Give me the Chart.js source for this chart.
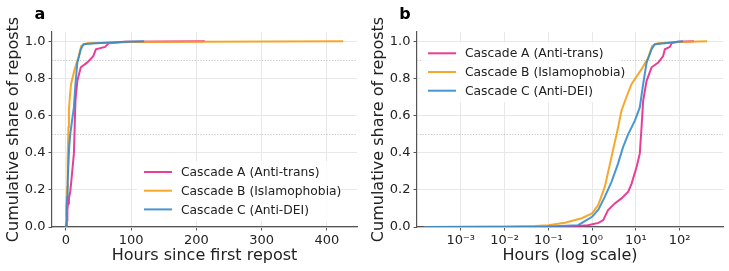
<!DOCTYPE html>
<html>
<head>
<meta charset="utf-8">
<script src="https://cdn.jsdelivr.net/npm/chart.js@4"></script>
<style>
  html, body { margin: 0; padding: 0; background: #fff; }
  #wrap { position: relative; width: 729px; height: 271px; }
  .panel { position: absolute; top: 0; width: 364px; height: 271px; }
  #panelA { left: 0; }
  #panelB { left: 365px; }
</style>
</head>
<body>
<div id="wrap">
  <div class="panel" id="panelA"><canvas id="chartLinear" width="364" height="271"></canvas></div>
  <div class="panel" id="panelB"><canvas id="chartLog" width="364" height="271"></canvas></div>
</div>
<script>
// ===============================
// DATA
// ===============================
const cascadeLabels = ["Cascade A (Anti-trans)", "Cascade B (Islamophobia)", "Cascade C (Anti-DEI)"];
const cascadeColors = ["rgba(231,41,138,0.9)", "rgba(245,158,22,0.9)", "rgba(52,139,205,0.9)"];

// Cascade A
const hoursA = [0.00015, 0.3, 0.8, 1.4, 1.8, 2.3, 3.3, 4.7, 6.7, 8, 10.4, 12.3, 13.5, 14.7, 17.6, 22.9, 32.5, 42, 46, 60, 66, 90, 213];
const shareA = [0, 0.002, 0.01, 0.022, 0.037, 0.09, 0.127, 0.154, 0.19, 0.234, 0.323, 0.395, 0.537, 0.68, 0.787, 0.86, 0.885, 0.92, 0.957, 0.97, 0.99, 0.998, 1.0];

// Cascade B
const hoursB = [0.00015, 0.01, 0.05, 0.1, 0.24, 0.58, 1.0, 1.38, 1.95, 2.78, 3.94, 4.7, 6.1, 8, 13.5, 19, 23.6, 32, 100, 425];
const shareB = [0, 0.002, 0.005, 0.01, 0.023, 0.047, 0.073, 0.118, 0.216, 0.377, 0.537, 0.627, 0.70, 0.77, 0.85, 0.91, 0.975, 0.99, 0.996, 1.0];

// Cascade C
const hoursC = [0.00015, 0.1, 0.48, 1.0, 1.4, 1.95, 2.78, 3.9, 5.1, 6.7, 9.5, 12.3, 14.7, 17.6, 22.9, 27, 46, 93, 120];
const shareC = [0, 0.003, 0.01, 0.055, 0.095, 0.162, 0.243, 0.34, 0.43, 0.50, 0.573, 0.644, 0.77, 0.885, 0.957, 0.984, 0.99, 0.998, 1.0];

const yTicks = [0, 0.2, 0.4, 0.6, 0.8, 1.0];
const xTicksLinear = [0, 100, 200, 300, 400];
const xTicksLog = [1e-3, 1e-2, 1e-1, 1, 10, 100];
const xTickLabelsLog = ["10\u207B\u00B3", "10\u207B\u00B2", "10\u207B\u00B9", "10\u2070", "10\u00B9", "10\u00B2"];
const refLines = [0.5, 0.9];

// ===============================
// HELPERS
// ===============================
const FONT = "'DejaVu Sans', sans-serif";
const GRID = "#e8e8e8";
const AXIS = "#555555";

function toPoints(xs, ys) {
  return xs.map((x, i) => ({ x: x, y: ys[i] }));
}

function makeDatasets() {
  const all = [[hoursA, shareA], [hoursB, shareB], [hoursC, shareC]];
  return all.map((d, i) => ({
    label: cascadeLabels[i],
    data: toPoints(d[0], d[1]),
    borderColor: cascadeColors[i],
    backgroundColor: cascadeColors[i],
    borderWidth: 2,
    pointRadius: 0,
    tension: 0,
    fill: false,
    order: 3 - i
  }));
}

// dotted reference lines, legend box, panel letter
const decorPlugin = {
  id: "decor",
  beforeDatasetsDraw(chart) {
    const { ctx, chartArea, scales } = chart;
    ctx.save();
    ctx.strokeStyle = "#b5b5b5";
    ctx.lineWidth = 0.8;
    ctx.setLineDash([1.2, 1.6]);
    refLines.forEach(v => {
      const y = Math.round(scales.y.getPixelForValue(v)) + 0.5;
      ctx.beginPath();
      ctx.moveTo(chartArea.left, y);
      ctx.lineTo(chartArea.right, y);
      ctx.stroke();
    });
    ctx.restore();
  },
  afterDatasetsDraw(chart, args, opts) {
    const { ctx } = chart;
    const lg = opts.legend;
    ctx.save();
    ctx.fillStyle = "rgba(255,255,255,0.85)";
    ctx.fillRect(lg.x - 7, lg.y - 11, lg.w, lg.rowH * 3 + 4);
    chart.data.datasets.forEach((ds, i) => {
      const y = lg.y + i * lg.rowH;
      ctx.strokeStyle = ds.borderColor;
      ctx.lineWidth = 2;
      ctx.beginPath();
      ctx.moveTo(lg.x, y);
      ctx.lineTo(lg.x + 28, y);
      ctx.stroke();
      ctx.fillStyle = "#222";
      ctx.font = "12.3px " + FONT;
      ctx.textBaseline = "middle";
      ctx.textAlign = "left";
      ctx.fillText(ds.label, lg.x + 37, y + 1);
    });
    ctx.font = "bold 16px " + FONT;
    ctx.fillStyle = "#000";
    ctx.textAlign = "center";
    ctx.textBaseline = "middle";
    ctx.fillText(opts.letter, 40, 15);
    ctx.restore();
  }
};

function yScale() {
  return {
    type: "linear",
    min: 0,
    max: 1.05,
    afterBuildTicks: s => { s.ticks = yTicks.map(v => ({ value: v })); },
    afterFit: s => { s.width = 52; },
    grid: { color: GRID, lineWidth: 1, tickColor: AXIS, tickLength: 3.5 },
    border: { color: AXIS, width: 1.2 },
    ticks: { color: "#222", font: { family: FONT, size: 13 }, padding: 3, callback: v => Number(v).toFixed(1) },
    title: { display: true, text: "Cumulative share of reposts", color: "#222", font: { family: FONT, size: 16 }, padding: { top: 4 } }
  };
}

function baseOptions(xScale, letter, legend, rightPad) {
  return {
    responsive: false,
    animation: false,
    layout: { padding: { left: 0, right: rightPad, top: 32, bottom: 0 } },
    plugins: {
      legend: { display: false },
      tooltip: { enabled: false },
      decor: { letter: letter, legend: legend }
    },
    scales: { x: xScale, y: yScale() }
  };
}

// ===============================
// PANEL a : LINEAR
// ===============================
new Chart(document.getElementById("chartLinear"), {
  type: "line",
  data: { datasets: makeDatasets() },
  options: baseOptions({
    type: "linear",
    min: -21.25,
    max: 446.25,
    afterBuildTicks: s => { s.ticks = xTicksLinear.map(v => ({ value: v })); },
    afterFit: s => { s.height = 44; },
    grid: { color: GRID, lineWidth: 1, tickColor: AXIS, tickLength: 3.5 },
    border: { color: AXIS, width: 1.2 },
    ticks: { color: "#222", font: { family: FONT, size: 13 }, padding: 2, maxRotation: 0 },
    title: { display: true, text: "Hours since first repost", color: "#222", font: { family: FONT, size: 16 }, padding: { bottom: 6 } }
  }, "a", { x: 144, y: 172, rowH: 18.7, w: 192 }, 7),
  plugins: [decorPlugin]
});

// ===============================
// PANEL b : LOG
// ===============================
new Chart(document.getElementById("chartLog"), {
  type: "line",
  data: { datasets: makeDatasets() },
  options: baseOptions({
    type: "logarithmic",
    min: 1e-4,
    max: 980,
    afterBuildTicks: s => { s.ticks = xTicksLog.map(v => ({ value: v })); },
    afterFit: s => { s.height = 44; },
    grid: { color: GRID, lineWidth: 1, tickColor: AXIS, tickLength: 3.5 },
    border: { color: AXIS, width: 1.2 },
    ticks: {
      color: "#222", font: { family: FONT, size: 13 }, padding: 2, maxRotation: 0, autoSkip: false,
      callback: (v) => {
        const i = xTicksLog.indexOf(v);
        return i >= 0 ? xTickLabelsLog[i] : "";
      }
    },
    title: { display: true, text: "Hours (log scale)", color: "#222", font: { family: FONT, size: 16 }, padding: { bottom: 6 } }
  }, "b", { x: 63, y: 53.3, rowH: 18.7, w: 200 }, 6),
  plugins: [decorPlugin]
});
</script>
</body>
</html>
